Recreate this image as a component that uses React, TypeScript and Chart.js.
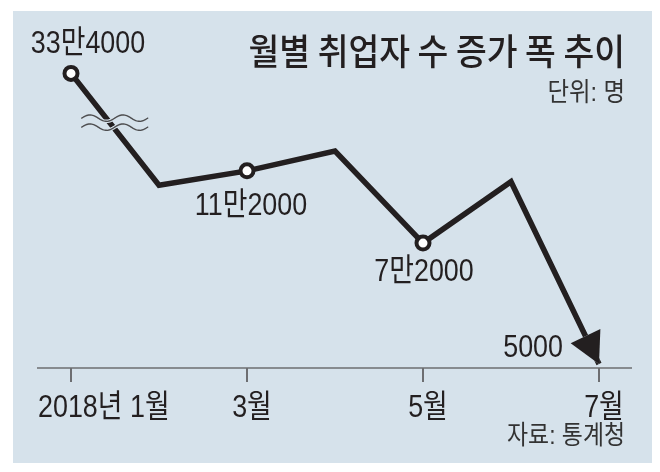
import React, { useEffect, useRef } from "react";
import { Chart, registerables } from "chart.js";

Chart.register(...registerables);

// ---- data ----
const months = ["2018년 1월", "2월", "3월", "4월", "5월", "6월", "7월"];
const values = [334000, 104000, 112000, 123000, 72000, 106000, 5000];
// January sits above an axis break; it is drawn at this (compressed) value
const breakDisplayValue = 166000;
const labeledIndex = [0, 2, 4, 6];
const valueLabels = ["33만4000", "11만2000", "7만2000", "5000"];
const tickIndex = [0, 2, 4, 6];
const tickLabels = ["2018년 1월", "3월", "5월", "7월"];
const title = "월별 취업자 수 증가 폭 추이";
const unitText = "단위: 명";
const sourceText = "자료: 통계청";

const INK = "#231f20";
const BG = "#d6e2eb";
const NUM_FONT = '32px "Liberation Sans", "Noto Sans CJK KR", sans-serif';
const NUM_SX = 0.84;

function drawText(
  ctx: CanvasRenderingContext2D,
  text: string,
  x: number,
  y: number,
  align: CanvasTextAlign,
  font: string,
  sx: number,
  color: string
) {
  ctx.save();
  ctx.translate(x, y);
  ctx.scale(sx, 1);
  ctx.font = font;
  ctx.fillStyle = color;
  ctx.textAlign = align;
  ctx.textBaseline = "middle";
  ctx.fillText(text, 0, 0);
  ctx.restore();
}

function arrowGeom(chart: any) {
  const pts = chart.getDatasetMeta(0).data;
  const n = pts.length;
  const tip = pts[n - 1];
  const prev = pts[n - 2];
  const dx = tip.x - prev.x;
  const dy = tip.y - prev.y;
  const len = Math.hypot(dx, dy);
  const ux = dx / len;
  const uy = dy / len;
  const L = 31;
  const W = 16.5;
  const bx = tip.x - ux * L;
  const by = tip.y - uy * L;
  const nx = -uy;
  const ny = ux;
  return [
    [tip.x, tip.y],
    [bx + nx * W, by + ny * W],
    [bx - nx * W, by - ny * W],
  ];
}

const customPlugin = {
  id: "custom",
  beforeDraw(chart: any) {
    const ctx = chart.ctx as CanvasRenderingContext2D;
    ctx.save();
    ctx.fillStyle = "#ffffff";
    ctx.fillRect(0, 0, chart.width, chart.height);
    ctx.fillStyle = BG;
    ctx.fillRect(13, 11, 639, 452);
    ctx.restore();
  },
  beforeDatasetsDraw(chart: any) {
    const ctx = chart.ctx as CanvasRenderingContext2D;
    const xs = chart.scales.x;
    const area = chart.chartArea;
    const axisY = area.bottom;
    // axis line
    ctx.save();
    ctx.strokeStyle = "#6d6e71";
    ctx.lineWidth = 1.6;
    ctx.beginPath();
    ctx.moveTo(37, axisY);
    ctx.lineTo(632, axisY);
    ctx.stroke();
    ctx.lineWidth = 2;
    tickIndex.forEach((idx, k) => {
      const x = Math.round(xs.getPixelForValue(idx));
      ctx.beginPath();
      ctx.moveTo(x, axisY);
      ctx.lineTo(x, axisY + 14);
      ctx.stroke();
      if (k === 0) {
        drawText(ctx, tickLabels[k], x - 33, axisY + 40, "left", NUM_FONT, NUM_SX, INK);
      } else {
        drawText(ctx, tickLabels[k], x + 5, axisY + 40, "center", NUM_FONT, NUM_SX, INK);
      }
    });
    ctx.restore();

    // clip out arrowhead region so the line doesn't poke through
    const tri = arrowGeom(chart);
    ctx.save();
    ctx.beginPath();
    ctx.rect(0, 0, chart.width, chart.height);
    ctx.moveTo(tri[0][0], tri[0][1]);
    ctx.lineTo(tri[1][0], tri[1][1]);
    ctx.lineTo(tri[2][0], tri[2][1]);
    ctx.closePath();
    ctx.clip("evenodd");
  },
  afterDatasetsDraw(chart: any) {
    const ctx = chart.ctx as CanvasRenderingContext2D;
    ctx.restore();
    const pts = chart.getDatasetMeta(0).data;

    // arrowhead
    const tri = arrowGeom(chart);
    ctx.save();
    ctx.fillStyle = INK;
    ctx.beginPath();
    ctx.moveTo(tri[0][0], tri[0][1]);
    ctx.lineTo(tri[1][0], tri[1][1]);
    ctx.lineTo(tri[2][0], tri[2][1]);
    ctx.closePath();
    ctx.fill();
    ctx.restore();

    // axis-break waves on the Jan -> Feb segment
    const a = pts[0];
    const b = pts[1];
    const t = 0.44;
    const cx = a.x + (b.x - a.x) * t + 5;
    const cy = a.y + (b.y - a.y) * t;
    const half = 33;
    const period = 33;
    const amp = 3.2;
    const waveYs = [cy - 4.5, cy + 4.5];
    const wavePath = (base: number) => {
      ctx.beginPath();
      for (let x = -half; x <= half; x += 1) {
        const y = base - amp * Math.sin((2 * Math.PI * (x + half)) / period);
        if (x === -half) ctx.moveTo(cx + x, y);
        else ctx.lineTo(cx + x, y);
      }
    };
    ctx.save();
    ctx.lineCap = "round";
    waveYs.forEach((base) => {
      wavePath(base);
      ctx.strokeStyle = BG;
      ctx.lineWidth = 3.5;
      ctx.stroke();
    });
    waveYs.forEach((base) => {
      wavePath(base);
      ctx.strokeStyle = "#4d4d4f";
      ctx.lineWidth = 1.4;
      ctx.stroke();
    });
    ctx.restore();

    // value labels
    const offs = [
      { dx: 17, dy: -29, align: "center" as CanvasTextAlign },
      { dx: 4, dy: 35, align: "center" as CanvasTextAlign },
      { dx: 1, dy: 29, align: "center" as CanvasTextAlign },
      { dx: -36, dy: -16, align: "right" as CanvasTextAlign },
    ];
    labeledIndex.forEach((idx, k) => {
      const p = pts[idx];
      const o = offs[k];
      drawText(ctx, valueLabels[k], p.x + o.dx, p.y + o.dy, o.align, NUM_FONT, NUM_SX, INK);
    });

    // title, unit, source
    drawText(ctx, title, 625, 51, "right", '500 36px "Noto Sans CJK KR", sans-serif', 0.93, INK);
    drawText(ctx, unitText, 625, 94, "right", '26px "Liberation Sans", "Noto Sans CJK KR", sans-serif', 0.9, "#333333");
    drawText(ctx, sourceText, 625, 437, "right", '26px "Liberation Sans", "Noto Sans CJK KR", sans-serif', 0.88, "#333333");
  },
};

export default function App() {
  const ref = useRef<HTMLCanvasElement | null>(null);
  useEffect(() => {
    if (!ref.current) return;
    const plotted = values.map((v, i) => (i === 0 ? breakDisplayValue : v));
    const markerOn = values.map((_, i) => (i === 0 || i === 2 || i === 4 ? 6.5 : 0));
    const chart = new Chart(ref.current, {
      type: "line",
      data: {
        labels: months,
        datasets: [
          {
            data: plotted,
            borderColor: INK,
            borderWidth: 5.5,
            borderJoinStyle: "miter",
            borderCapStyle: "butt",
            tension: 0,
            fill: false,
            pointRadius: markerOn,
            pointBackgroundColor: "#ffffff",
            pointBorderColor: INK,
            pointBorderWidth: 4,
            clip: false,
          } as any,
        ],
      },
      options: {
        animation: false,
        responsive: false,
        devicePixelRatio: 1,
        events: [],
        layout: { padding: { left: 71, right: 61, top: 12, bottom: 104 } },
        scales: {
          x: { type: "category", display: false, offset: false },
          y: { display: false, min: 2800, max: 200000 },
        },
        plugins: { legend: { display: false }, tooltip: { enabled: false } },
      },
      plugins: [customPlugin],
    });
    return () => chart.destroy();
  }, []);
  return (
    <div style={{ position: "absolute", left: 0, top: 0, width: 660, height: 472 }}>
      <canvas ref={ref} width={660} height={472} style={{ display: "block" }} />
    </div>
  );
}
